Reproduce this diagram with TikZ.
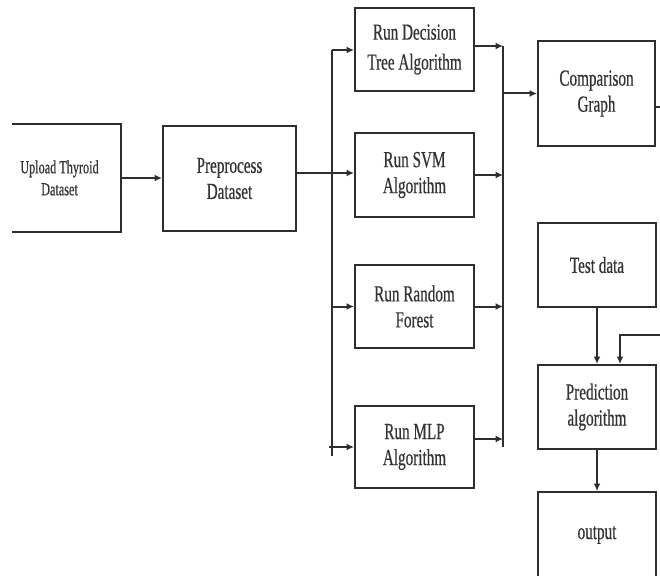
\documentclass[tikz,border=0pt]{standalone}
\usepackage{fontspec}
\setmainfont{Liberation Serif}
\newfontfamily\condf[FakeStretch=0.66,FakeBold=0.5]{Liberation Serif}
\usetikzlibrary{arrows.meta}
\definecolor{linec}{HTML}{2e2e2e}
\definecolor{textc}{HTML}{333333}
\begin{document}
\begin{tikzpicture}[x=1pt,y=-1pt,
  box/.style={draw=linec,line width=2pt,inner sep=0pt,align=center,text=textc,
    font=\condf\fontsize{23}{26}\selectfont},
  widebox/.style={box,font=\condf\fontsize{23}{30}\selectfont},
  smallbox/.style={box,font=\condf\fontsize{18.5}{22}\selectfont},
  ln/.style={draw=linec,line width=2pt},
  arr/.style={ln,-{Latex[length=7.5pt,width=7pt]}}]
\useasboundingbox (0,0) rectangle (660,575);
% boxes
\node[smallbox,draw=none,minimum width=107pt,minimum height=106pt] (up) at (59.5,178) {Upload Thyroid\\Dataset};
\draw[ln] ([xshift=7pt]up.north west) -- ([xshift=7pt]up.north east) -- ([xshift=7pt]up.south east) -- ([xshift=7pt]up.south west);
\node[box,minimum width=133pt,minimum height=105pt] (pre) at (229.5,178.5) {Preprocess\\Dataset};
\node[widebox,minimum width=119pt,minimum height=83pt] (dt) at (414.5,49.5) {Run Decision\\Tree Algorithm};
\node[box,minimum width=119pt,minimum height=84pt] (svm) at (414.5,175) {Run SVM\\Algorithm};
\node[box,minimum width=119pt,minimum height=83pt] (rf) at (414.5,306.5) {Run Random\\Forest};
\node[box,minimum width=119pt,minimum height=82pt] (mlp) at (414.5,447) {Run MLP\\Algorithm};
\node[box,minimum width=117pt,minimum height=105pt] (comp) at (596.5,93.5) {Comparison\\Graph};
\node[box,minimum width=118pt,minimum height=84pt] (test) at (597,265) {Test data};
\node[box,minimum width=118pt,minimum height=84pt] (pred) at (597,407) {Prediction\\algorithm};
\node[box,minimum width=118pt,minimum height=86pt] (out) at (597,535) {output};
% bus coordinates
\coordinate (lb1) at (332,50);
\coordinate (lb2) at (332,456);
\coordinate (rb1) at (503,46);
\coordinate (rb2) at (503,447);
\coordinate (fb1) at (672,107);
\coordinate (fb2) at (672,335);
% connectors
\draw[arr] ([xshift=7pt]up.east) -- (pre.west |- up.east);
\draw[ln] (lb1) -- (lb2);
\draw[arr] (pre.east |- 0,173) -- (svm.west |- 0,173);
\draw[arr] (lb1) -- (dt.west |- lb1);
\draw[arr] (rf.west -| lb1) -- (rf.west);
\draw[arr] ([xshift=-3pt]mlp.west -| lb1) -- (mlp.west);
\draw[ln] (rb1) -- (rb2);
\draw[arr] (dt.east |- rb1) -- (rb1);
\draw[arr] (svm.east) -- (svm.east -| rb1);
\draw[arr] (rf.east) -- (rf.east -| rb1);
\draw[arr] (mlp.east |- 0,439) -- (rb1 |- 0,439);
\draw[arr] (comp.west -| rb1) -- (comp.west);
\draw[arr] (comp.east |- fb1) -- (fb1) -- (fb2) -| ([xshift=23pt]pred.north);
\draw[arr] (test.south) -- (pred.north);
\draw[arr] (pred.south) -- (out.north);
\end{tikzpicture}
\end{document}
